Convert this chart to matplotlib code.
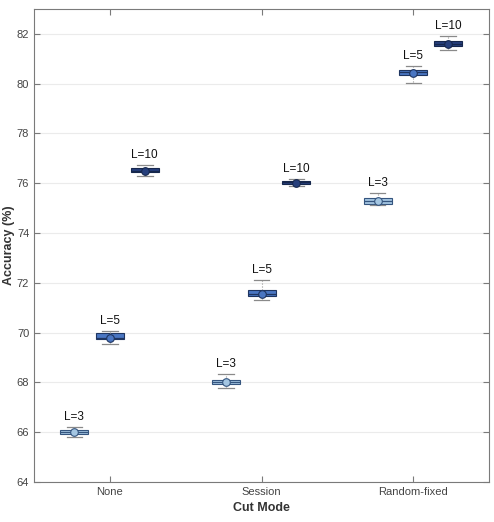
import matplotlib
matplotlib.use("Agg")
import matplotlib.pyplot as plt
import numpy as np

plt.rcParams["font.family"] = ["Liberation Sans", "DejaVu Sans"]

# categories and series
cut_modes = ["None", "Session", "Random-fixed"]
window_labels = ["L=3", "L=5", "L=10"]

# box statistics, rows = L=3 / L=5 / L=10, columns = cut modes
q1 = [[65.93, 67.93, 75.18],
      [69.76, 71.46, 80.35],
      [76.43, 75.96, 81.51]]
med = [[66.00, 68.03, 75.30],
       [69.80, 71.57, 80.45],
       [76.50, 76.03, 81.60]]
q3 = [[66.07, 68.11, 75.42],
      [70.00, 71.72, 80.55],
      [76.60, 76.09, 81.71]]
whis_lo = [[65.80, 67.77, 75.11],
           [69.56, 71.32, 80.04],
           [76.28, 75.88, 81.36]]
whis_hi = [[66.21, 68.34, 75.59],
            [70.05, 72.12, 80.69],
            [76.73, 76.18, 81.90]]
means = [[66.00, 68.03, 75.29],
         [69.79, 71.57, 80.43],
         [76.49, 76.02, 81.59]]

colors = ["#a4c6e2", "#4a76c2", "#263f7c"]
edges = ["#35557f", "#1f3560", "#16274d"]
offsets = [-0.235, 0.0, 0.23]
box_width = 0.185

fig = plt.figure(figsize=(4.94, 5.22), dpi=100)
ax = fig.add_axes([0.069, 0.0766, 0.921, 0.9064])
ax.set_facecolor("white")

x = np.arange(1, len(cut_modes) + 1)
for i, lab in enumerate(window_labels):
    stats = []
    for j in range(len(cut_modes)):
        stats.append(dict(med=med[i][j], q1=q1[i][j], q3=q3[i][j],
                          whislo=whis_lo[i][j], whishi=whis_hi[i][j],
                          mean=means[i][j], fliers=[]))
    pos = x + offsets[i]
    ax.bxp(stats, positions=pos, widths=box_width, patch_artist=True,
           showmeans=True, showfliers=False,
           boxprops=dict(facecolor=colors[i], edgecolor=edges[i], linewidth=0.8),
           medianprops=dict(color=edges[i], linewidth=0.9),
           whiskerprops=dict(color="#9a9a9a", linewidth=0.8, linestyle=":"),
           capprops=dict(color="#8a8a8a", linewidth=0.9),
           capwidths=box_width * 0.55,
           meanprops=dict(marker="o", markerfacecolor=colors[i],
                          markeredgecolor=edges[i], markersize=5.5,
                          markeredgewidth=0.8))
    for j in range(len(cut_modes)):
        ax.annotate(lab, (pos[j], whis_hi[i][j]), xytext=(0, 3),
                    textcoords="offset points", ha="center", va="bottom",
                    fontsize=8.5, color="#111111")

ax.set_xlim(0.5, 3.5)
ax.set_ylim(64, 83)
ax.set_yticks(np.arange(64, 83, 2))
ax.set_xticks(x)
ax.set_xticklabels(cut_modes)
ax.yaxis.grid(True, color="#ebebeb", linewidth=0.8)
ax.set_axisbelow(True)

for s in ax.spines.values():
    s.set_color("#7a7a7a")
    s.set_linewidth(0.8)
ax.tick_params(direction="in", top=True, right=True, length=4,
               color="#7a7a7a", labelsize=8, labelcolor="#444444")

ax.set_xlabel("Cut Mode", fontsize=9, fontweight="bold", color="#333333")
ax.set_ylabel("Accuracy (%)", fontsize=9, fontweight="bold", color="#333333")
ax.yaxis.set_label_coords(-0.042, 0.5)

fig.savefig("out.png", dpi=100)
